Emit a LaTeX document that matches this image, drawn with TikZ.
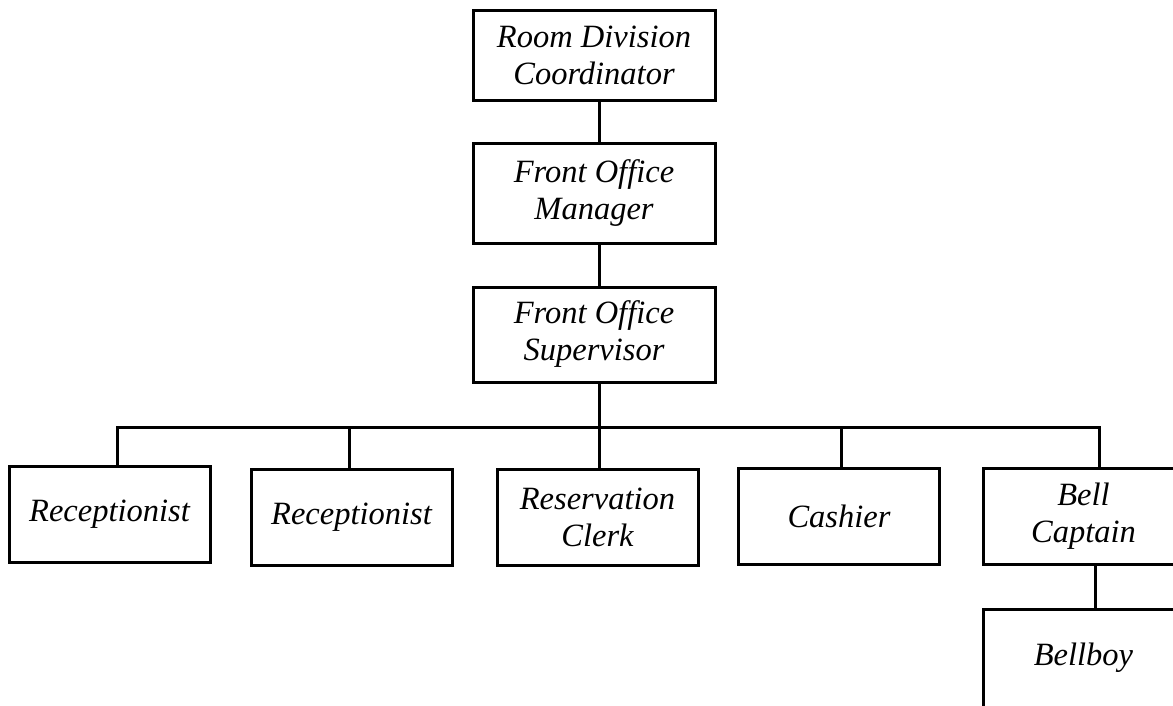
\documentclass[tikz,border=0pt]{standalone}
\usepackage{fontspec}
\setmainfont{Liberation Serif}
\tikzset{
  box/.style={draw=black, line width=3pt, rectangle, align=center,
    inner sep=0pt, font=\fontsize{32.5}{37}\selectfont\itshape},
  topbox/.style={box, minimum width=242pt},
  lowbox/.style={box, minimum width=201pt, minimum height=96pt},
  link/.style={draw=black, line width=3pt}
}
\begin{document}
\begin{tikzpicture}[x=1pt,y=-1pt]
\useasboundingbox (0,0) rectangle (1173,705);
\clip (0,0) rectangle (1173,705);
% top chain
\node[topbox, minimum height=90pt]  (rdc) at (594,55)    {Room Division\\Coordinator};
\node[topbox, minimum height=100pt] (fom) at (594,193)   {Front Office\\Manager};
\node[topbox, minimum height=95pt]  (fos) at (594,334.5) {Front Office\\Supervisor};
% lower row
\node[lowbox] (rec1) at (109.5,514)  {Receptionist};
\node[lowbox] (rec2) at (351.5,517)  {Receptionist};
\node[lowbox] (res)  at (597.5,517)  {Reservation\\Clerk};
\node[lowbox] (cash) at (839,516.5)  {Cashier};
\node[lowbox] (bell) at (1083.5,516.5) {Bell\\Captain};
\node[lowbox, minimum height=98pt] (boy) at (1083.5,658) {Bellboy};
% connector coordinates
\coordinate (spine) at (599,0);
\coordinate (hub) at (599,427);
\coordinate (b1) at (117,427);
\coordinate (b2) at (349,427);
\coordinate (b3) at (599,427);
\coordinate (b4) at (841,427);
\coordinate (b5) at (1099,427);
\coordinate (bb) at (1095,0);
% connectors
\draw[link] (rdc.south -| spine) -- (fom.north -| spine);
\draw[link] (fom.south -| spine) -- (fos.north -| spine);
\draw[link] (fos.south -| spine) -- (hub);
\draw[link, line cap=rect] (b1) -- (b5);
\draw[link] (b1) -- (b1 |- rec1.north);
\draw[link] (b2) -- (b2 |- rec2.north);
\draw[link] (b3) -- (b3 |- res.north);
\draw[link] (b4) -- (b4 |- cash.north);
\draw[link] (b5) -- (b5 |- bell.north);
\draw[link] (bell.south -| bb) -- (boy.north -| bb);
\end{tikzpicture}
\end{document}
